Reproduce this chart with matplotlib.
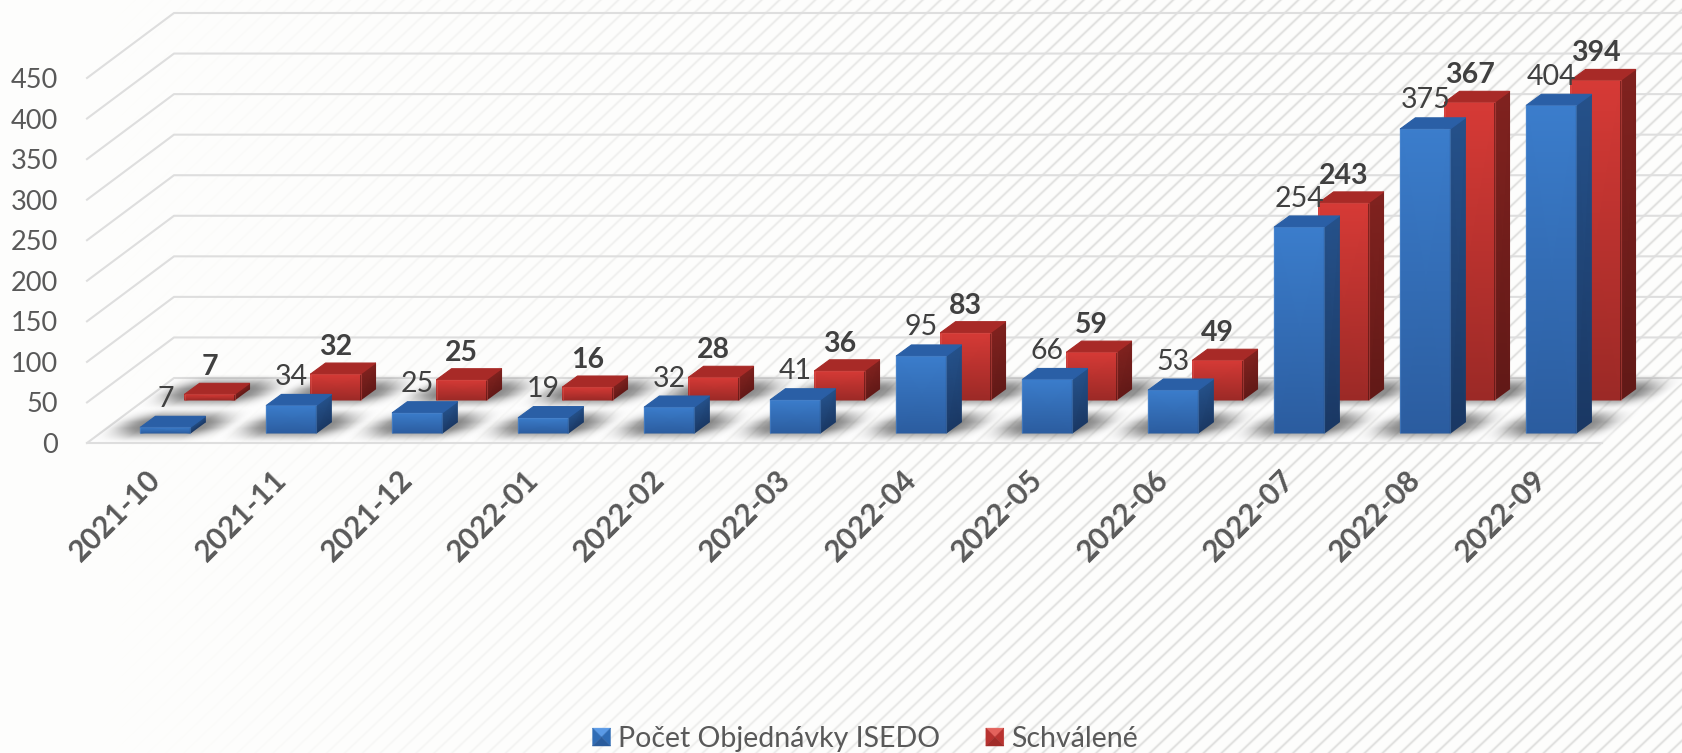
import numpy as np
import matplotlib
matplotlib.use("Agg")
import matplotlib.pyplot as plt
from matplotlib.colors import LinearSegmentedColormap
from matplotlib.legend_handler import HandlerBase
from matplotlib.patches import Patch, Polygon
from matplotlib.transforms import ScaledTranslation

# data
mesiace = ["2021-10", "2021-11", "2021-12", "2022-01", "2022-02", "2022-03",
           "2022-04", "2022-05", "2022-06", "2022-07", "2022-08", "2022-09"]
objednavky = [7, 34, 25, 19, 32, 41, 95, 66, 53, 254, 375, 404]
schvalene = [7, 32, 25, 16, 28, 36, 83, 59, 49, 243, 367, 394]
y_ticky = [0, 50, 100, 150, 200, 250, 300, 350, 400, 450]

W, H = 1682, 753
PX_KAT = 126.0           # px per category
PX_VAL = 365 / 450       # px per value unit
HLBKA_X = 87 / PX_KAT    # depth of the floor in data units
HLBKA_Y = 65 / PX_VAL
SEDA = "#595959"

plt.rcParams["font.family"] = ["Lato", "DejaVu Sans"]

fig = plt.figure(figsize=(W / 100, H / 100), dpi=100)

# background with fading diagonal hatching
bg = fig.add_axes([0, 0, 1, 1], zorder=-1)
yy, xx = np.mgrid[0:H, 0:W]
faza = (xx * 0.95 + yy) % 17.0
ciara = np.exp(-((faza - 8.5) ** 2) / (2 * 1.15 ** 2))
sila = np.clip((xx - 60) / 1050, 0, 1) ** 1.3
tmavost = 0.12 * ciara * sila
pozadie = np.dstack([0.995 - tmavost, 0.995 - tmavost, 0.99 - tmavost])
bg.imshow(pozadie, aspect="auto", interpolation="bilinear")
bg.axis("off")

ax = fig.add_axes([87 / W, (H - 443) / H, 12 * PX_KAT / W, 365 / H])
ax.patch.set_visible(False)
for s in ax.spines.values():
    s.set_visible(False)


def stena(x, v, d):
    # oblique projection of a point lying d of the way back on the floor
    return x + d * HLBKA_X, v + d * HLBKA_Y


def gradient(rohy, hore, dole, z):
    # corners order: bottom left, bottom right, top left, top right
    cmap = LinearSegmentedColormap.from_list("g", [dole, hore])
    X = np.array([[rohy[0][0], rohy[1][0]], [rohy[2][0], rohy[3][0]]])
    Y = np.array([[rohy[0][1], rohy[1][1]], [rohy[2][1], rohy[3][1]]])
    ax.pcolormesh(X, Y, np.array([[0.0, 0.0], [1.0, 1.0]]), shading="gouraud",
                  cmap=cmap, vmin=0, vmax=1, zorder=z, clip_on=False)


def tien(x_stred, zaklad, z):
    # soft shadow on the floor, sheared along the floor depth
    sx, sy = 130, 34
    gy, gx = np.mgrid[sy:-sy:68j, -sx:sx:260j]
    u = gx - gy * 1.34
    a = np.clip((68 - np.abs(u)) / 40, 0, 1) * np.clip((19 - np.abs(gy)) / 16, 0, 1)
    a = a * a * (3 - 2 * a) * 0.45
    rgba = np.zeros(a.shape + (4,))
    rgba[..., 3] = a
    ax.imshow(rgba, aspect="auto", interpolation="bilinear", zorder=z, clip_on=False,
              extent=(x_stred - sx / PX_KAT, x_stred + sx / PX_KAT,
                      zaklad - sy / PX_VAL, zaklad + sy / PX_VAL))


FARBY = {
    "modra": dict(pred=("#3b7dcc", "#2b5c9f"), bok=("#25518a", "#1a3864"), vrch="#2a5fa6", edge="#5b93d6"),
    "cervena": dict(pred=("#d63a36", "#9b2926"), bok=("#80221f", "#621917"), vrch="#a82a27", edge="#e25a54"),
}
BOX_W = 50 / PX_KAT
BOX_DX = 15 / PX_KAT
BOX_DY = 11 / PX_VAL


def stlpec(i, hodnota, d, farby, z):
    x0, v0 = stena(i - 0.5 + 40 / PX_KAT, 0, d)
    x1 = x0 + BOX_W
    v1 = v0 + hodnota * 1.0
    gradient([(x0, v0), (x1, v0), (x0, v1), (x1, v1)], *farby["pred"], z)
    gradient([(x1, v0), (x1 + BOX_DX, v0 + BOX_DY), (x1, v1), (x1 + BOX_DX, v1 + BOX_DY)],
             *farby["bok"], z)
    ax.add_patch(Polygon([(x0, v1), (x1, v1), (x1 + BOX_DX, v1 + BOX_DY), (x0 + BOX_DX, v1 + BOX_DY)],
                         facecolor=farby["vrch"], edgecolor=farby["vrch"], lw=0.8,
                         joinstyle="round", zorder=z, clip_on=False))
    # thin bevel highlight around the front face
    ax.plot([x0, x0, x1, x1], [v0, v1, v1, v0], color=farby["edge"], lw=0.8, alpha=0.4,
            zorder=z, clip_on=False)
    return x0 + BOX_W / 2, v1


# wall and floor grid
L, R = -0.5, 11.5 + 3 / PX_KAT
ax.add_patch(Polygon([(L, 0), (R, 0), stena(R, 0, 1), stena(L, 0, 1)], facecolor="white",
                     alpha=0.4, edgecolor="none", zorder=0.4, clip_on=False))
for v in y_ticky:
    xs, vs = stena(L, v, 1)
    xe, ve = stena(R, v, 1)
    ax.plot([L, xs, xe], [v, vs, ve], color="#dedede", lw=1.5, zorder=0.5, clip_on=False)
ax.plot([L, R], [0, 0], color="#dedede", lw=1.5, zorder=0.5, clip_on=False)

# shadows first, then bars back to front
D_MODRA, D_CERV = 10 / 65, 43 / 65
for i in range(len(mesiace)):
    for d in (D_CERV, D_MODRA):
        x_s, v_s = stena(i - 0.5 + 40 / PX_KAT + BOX_W / 2, 0, d)
        tien(x_s + 8 / PX_KAT, v_s + 8 / PX_VAL, 1)

z = 2
for i in range(len(mesiace)):
    xc, vc = stlpec(i, schvalene[i], D_CERV, FARBY["cervena"], z)
    ax.annotate(str(schvalene[i]), (xc, vc), xytext=(0, 19.5), textcoords="offset points",
                ha="center", va="center", fontsize=20.5, fontweight="bold", color="#404040", zorder=50)
    z += 1
    xc, vc = stlpec(i, objednavky[i], D_MODRA, FARBY["modra"], z)
    ax.annotate(str(objednavky[i]), (xc, vc), xytext=(0, 20.5), textcoords="offset points",
                ha="center", va="center", fontsize=20.5, color="#404040", zorder=50)
    z += 1

ax.set_xlim(-0.5, 11.5)
ax.set_ylim(0, 450)
ax.set_yticks(y_ticky)
ax.set_yticklabels([str(v) for v in y_ticky], fontsize=19.5, color=SEDA)
ax.set_xticks(range(len(mesiace)))
ax.set_xticklabels(mesiace, rotation=45, ha="right", va="center", rotation_mode="anchor",
                   fontsize=21.5, fontweight="bold", color=SEDA)
ax.tick_params(axis="y", length=0, pad=21)
ax.tick_params(axis="x", length=0, pad=23)
# tick_params resets the label transforms, so the shift has to come after it
posun = ScaledTranslation(6 / 100, 0, fig.dpi_scale_trans)
for t in ax.get_xticklabels():
    t.set_transform(t.get_transform() + posun)


class KockaHandler(HandlerBase):
    # legend key with the bevelled look of the original swatch
    def create_artists(self, legend, orig, xd, yd, w, h, fs, trans):
        odtiene = orig.odtiene
        a = h * 0.9
        x0, y0 = xd * -1 + w - a, -yd + (h - a) / 2
        c = (x0 + a / 2, y0 + a / 2)
        ro = [(x0, y0), (x0 + a, y0), (x0 + a, y0 + a), (x0, y0 + a)]
        art = []
        for k, farba in zip([(3, 2), (0, 3), (1, 2), (0, 1)], odtiene):
            art.append(Polygon([ro[k[0]], ro[k[1]], c], facecolor=farba, edgecolor=farba,
                               lw=0.3, transform=trans))
        return art


p1 = Patch(label="Počet Objednávky ISEDO")
p1.odtiene = ["#5a9ae6", "#2f6cb5", "#2f6cb5", "#2a5c9c"]
p2 = Patch(label="Schválené")
p2.odtiene = ["#e3625c", "#b83330", "#b83330", "#a02c29"]
fig.legend(handles=[p1, p2], loc="center", bbox_to_anchor=(862 / W, (H - 739) / H), ncol=2,
           frameon=False, fontsize=20.5, labelcolor=SEDA, handlelength=0.85, handletextpad=0.25,
           columnspacing=1.4, borderaxespad=0, borderpad=0,
           handler_map={Patch: KockaHandler()})

fig.savefig("out.png", dpi=100)
